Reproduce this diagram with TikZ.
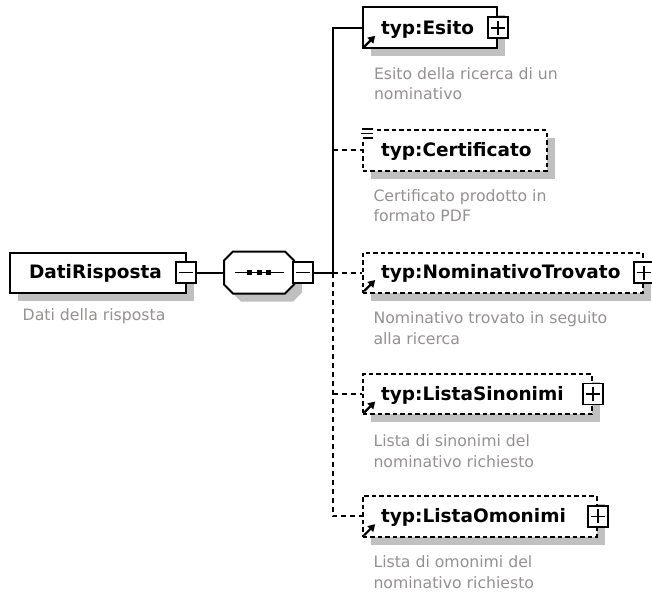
\documentclass[tikz,border=0pt]{standalone}
\usepackage{fontspec}
\setmainfont{DejaVu Sans}
\usetikzlibrary{arrows.meta,shadows}
\definecolor{descgray}{RGB}{150,145,145}
\definecolor{shadowgray}{RGB}{192,192,192}
\newcommand\seqoct[2]{([xshift=#1+9pt,yshift=#2]seq.north west) -- ([xshift=#1-9pt,yshift=#2]seq.north east)
  -- ([xshift=#1,yshift=#2-9pt]seq.north east) -- ([xshift=#1,yshift=#2+9pt]seq.south east)
  -- ([xshift=#1-9pt,yshift=#2]seq.south east) -- ([xshift=#1+9pt,yshift=#2]seq.south west)
  -- ([xshift=#1,yshift=#2+9pt]seq.south west) -- ([xshift=#1,yshift=#2-9pt]seq.north west) -- cycle}
\begin{document}
\begin{tikzpicture}[x=1pt,y=-1pt,line width=2pt,
  shad/.style={drop shadow={shadow xshift=8pt,shadow yshift=-8pt,fill=shadowgray,opacity=1}},
  elem/.style={draw=black,fill=white,inner sep=0pt,rectangle,shad},
  optelem/.style={elem,dash pattern=on 4.5pt off 3pt},
  title/.style={inner sep=0pt,anchor=base west,font=\bfseries\fontsize{18.5}{20}\selectfont},
  desc/.style={inner sep=0pt,anchor=base west,align=left,text=descgray,font=\fontsize{15.7}{20.5}\selectfont},
  pm/.style={draw=black,fill=white,solid,inner sep=0pt,minimum width=20pt,minimum height=21pt,line width=1.6pt},
  minusbox/.style={pm,path picture={\draw[line width=1.6pt] ([xshift=-7pt]path picture bounding box.center) -- ([xshift=7pt]path picture bounding box.center);}},
  plusbox/.style={pm,path picture={\draw[line width=1.6pt] ([xshift=-7pt]path picture bounding box.center) -- ([xshift=7pt]path picture bounding box.center);
     \draw[line width=1.6pt] ([yshift=-7pt]path picture bounding box.center) -- ([yshift=7pt]path picture bounding box.center);}},
  refarrow/.style={-{Triangle[length=7pt,width=8pt]},line width=2.2pt,solid},
  dsh/.style={dash pattern=on 5pt off 4pt}]
\useasboundingbox[fill=white] (0,0) rectangle (652,594);

% root element
\node[elem,minimum width=176pt,minimum height=40pt] (dati) at (98,272.5) {};
\node[title] (datiT) at (28,278.5) {DatiRisposta};
\node[minusbox] (datiM) at (186,272.5) {};
\node[desc] (datiD) at (21.7,320.7) {Dati della risposta};

% sequence compositor
\node[inner sep=0pt,minimum width=68pt,minimum height=40pt] (seq) at (259,272.5) {};
\fill[shadowgray] \seqoct{8pt}{-8pt};
\draw[fill=white] \seqoct{0pt}{0pt};
\draw[line width=1.6pt] ([xshift=-24pt]seq.center) -- ([xshift=25pt]seq.center);
\foreach \dx in {-9.5,0,9.5}
  \fill ([shift={(\dx-2.5,-2.5)}]seq.center) rectangle ++(5,5);
\node[minusbox] (seqM) at (303,272.5) {};

\coordinate (J) at (332.5,272.5);

% children
\node[elem,minimum width=134pt,minimum height=41pt] (esito) at (429.7,27.8) {};
\node[title] (esitoT) at (380,35) {typ:Esito};
\node[plusbox] (esitoP) at (esito.east) {};
\draw[refarrow] ([shift={(2.5,-2.5)}]esito.south west) -- ++(11,-11);
\node[desc] (esitoD) at (373,99.8) {Esito della ricerca di un\\nominativo};

\node[optelem,minimum width=184pt,minimum height=40.7pt] (cert) at (454.7,150.35) {};
\fill[white] ([shift={(-1.5,-2)}]cert.north west) rectangle ++(14,15);
\draw[line width=1.8pt] ([shift={(0.5,0)}]cert.north west) -- ++(11,0)
                      ([shift={(-1,4.5)}]cert.north west) -- ++(12.5,0)
                      ([shift={(1.5,9)}]cert.north west) -- ++(10,0);
\node[title] (certT) at (380,156.7) {typ:Certificato};
\node[desc] (certD) at (372.5,221.5) {Certificato prodotto in\\formato PDF};

\node[optelem,minimum width=280pt,minimum height=40pt] (nomin) at (502.7,272.5) {};
\node[title] (nominT) at (380,278.9) {typ:NominativoTrovato};
\node[plusbox] (nominP) at (nomin.east) {};
\draw[refarrow] ([shift={(2.5,-2.5)}]nomin.south west) -- ++(11,-11);
\node[desc] (nominD) at (372.5,344) {Nominativo trovato in seguito\\alla ricerca};

\node[optelem,minimum width=229pt,minimum height=40pt] (sinon) at (477.2,394) {};
\node[title] (sinonT) at (380,400.4) {typ:ListaSinonimi};
\node[plusbox] (sinonP) at (sinon.east) {};
\draw[refarrow] ([shift={(2.5,-2.5)}]sinon.south west) -- ++(11,-11);
\node[desc] (sinonD) at (372.5,467) {Lista di sinonimi del\\nominativo richiesto};

\node[optelem,minimum width=234pt,minimum height=40.7pt] (omon) at (479.7,516.35) {};
\node[title] (omonT) at (380,522.7) {typ:ListaOmonimi};
\node[plusbox] (omonP) at (omon.east) {};
\draw[refarrow] ([shift={(2.5,-2.5)}]omon.south west) -- ++(11,-11);
\node[desc] (omonD) at (372.5,588) {Lista di omonimi del\\nominativo richiesto};

% connectors
\draw (datiM.east) -- (seq.west);
\draw (seqM.east) -- (J);
\draw (J) |- (esito.west);
\draw[dsh] (J) |- (omon.west);
\draw[dsh] (J |- cert.west) -- (cert.west);
\draw[dsh] (J) -- (nomin.west);
\draw[dsh] (J |- sinon.west) -- (sinon.west);
\end{tikzpicture}
\end{document}
